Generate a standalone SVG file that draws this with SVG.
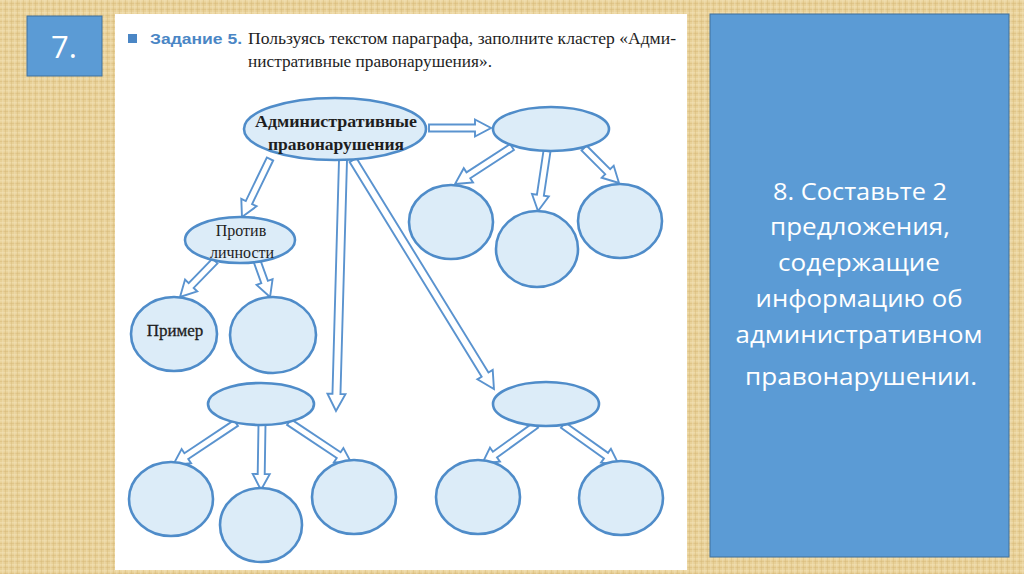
<svg xmlns="http://www.w3.org/2000/svg" width="1024" height="574" viewBox="0 0 1024 574">
<defs>
<pattern id="burlap" width="6" height="6" patternUnits="userSpaceOnUse">
<rect width="6" height="6" fill="#e8d097"/>
<rect x="0" y="0" width="6" height="1.5" fill="#f1dfb0" opacity="0.7"/>
<rect x="0" y="3" width="6" height="1" fill="#d7ba7c" opacity="0.5"/>
<rect x="2" y="0" width="1.5" height="6" fill="#f3e3b8" opacity="0.45"/>
<rect x="5" y="0" width="1" height="6" fill="#d4b676" opacity="0.4"/>
</pattern>
<style>
.nd{fill:#dcecf8;stroke:#4f8cc9;stroke-width:2.6}
.arr{fill:#ffffff;stroke:#5a93cf;stroke-width:1.9;stroke-linejoin:miter}
.ser{font-family:"Liberation Serif","DejaVu Serif",serif;fill:#1e1e1e}
.pp{font-family:"Open Sans","Noto Sans","Liberation Sans",sans-serif;fill:#ffffff}
</style>
</defs>
<rect width="1024" height="574" fill="url(#burlap)"/>
<rect x="115" y="14" width="572" height="556" fill="#ffffff"/>

<g id="num7">
<rect x="27" y="16" width="75" height="60" fill="#5b9bd5" stroke="#41719c" stroke-width="1"/>
<text x="64" y="58" class="pp" font-size="31" text-anchor="middle">7.</text>
</g>

<g id="header">
<rect x="128" y="34" width="9" height="9" fill="#4a86c5"/>
<text x="150" y="44" font-family="'Liberation Sans',Arial,sans-serif" font-weight="bold" font-size="15" fill="#4a86c5" textLength="92" lengthAdjust="spacingAndGlyphs">Задание 5.</text>
<text x="248" y="44" class="ser" font-size="16.5" textLength="428" lengthAdjust="spacingAndGlyphs">Пользуясь текстом параграфа, заполните кластер «Адми-</text>
<text x="248" y="67" class="ser" font-size="16.5" textLength="244" lengthAdjust="spacingAndGlyphs">нистративные правонарушения».</text>
</g>

<g id="connectors">
<polygon class="arr" transform="translate(429,128) rotate(0)" points="0,-3.5 46,-3.5 46,-8.5 62,0 46,8.5 46,3.5 0,3.5"/>
<polygon class="arr" transform="translate(512,147) rotate(147)" points="0,-3.5 52,-3.5 52,-8.5 68,0 52,8.5 52,3.5 0,3.5"/>
<polygon class="arr" transform="translate(547,151) rotate(98.5)" points="0,-3.5 44.7,-3.5 44.7,-8.5 60.7,0 44.7,8.5 44.7,3.5 0,3.5"/>
<polygon class="arr" transform="translate(584,148) rotate(45)" points="0,-3.5 33.5,-3.5 33.5,-8.5 49.5,0 33.5,8.5 33.5,3.5 0,3.5"/>
<polygon class="arr" transform="translate(270,159) rotate(115.8)" points="0,-3.5 48.4,-3.5 48.4,-8.5 64.4,0 48.4,8.5 48.4,3.5 0,3.5"/>
<polygon class="arr" transform="translate(343,160) rotate(91.6)" points="0,-4 234,-4 234,-9 251,0 234,9 234,4 0,4"/>
<polygon class="arr" transform="translate(353,160) rotate(58.4)" points="0,-4 252,-4 252,-9 269,0 252,9 252,4 0,4"/>
<polygon class="arr" transform="translate(215,261) rotate(134.2)" points="0,-3.5 34.2,-3.5 34.2,-8.5 50.2,0 34.2,8.5 34.2,3.5 0,3.5"/>
<polygon class="arr" transform="translate(257,261) rotate(70.1)" points="0,-3.5 22.3,-3.5 22.3,-8.5 38.3,0 22.3,8.5 22.3,3.5 0,3.5"/>
<polygon class="arr" transform="translate(236,423) rotate(146.3)" points="0,-3.5 59.7,-3.5 59.7,-8.5 75.7,0 59.7,8.5 59.7,3.5 0,3.5"/>
<polygon class="arr" transform="translate(262,424) rotate(90.9)" points="0,-3.5 50,-3.5 50,-8.5 66,0 50,8.5 50,3.5 0,3.5"/>
<polygon class="arr" transform="translate(289,422) rotate(33.7)" points="0,-3.5 59.7,-3.5 59.7,-8.5 75.7,0 59.7,8.5 59.7,3.5 0,3.5"/>
<polygon class="arr" transform="translate(536,425) rotate(144.2)" points="0,-3.5 50.6,-3.5 50.6,-8.5 66.6,0 50.6,8.5 50.6,3.5 0,3.5"/>
<polygon class="arr" transform="translate(563,425) rotate(35.5)" points="0,-3.5 52.8,-3.5 52.8,-8.5 68.8,0 52.8,8.5 52.8,3.5 0,3.5"/>
</g>

<g id="n-main">
<ellipse class="nd" cx="335" cy="129" rx="91" ry="31"/>
<text x="336" y="127" class="ser" font-size="16.5" font-weight="bold" text-anchor="middle" textLength="162" lengthAdjust="spacingAndGlyphs">Административные</text>
<text x="336" y="150" class="ser" font-size="16.5" font-weight="bold" text-anchor="middle" textLength="136" lengthAdjust="spacingAndGlyphs">правонарушения</text>
</g>
<g id="n-tr"><ellipse class="nd" cx="551" cy="129" rx="58" ry="22"/></g>
<g id="n-tr1"><ellipse class="nd" cx="451" cy="222" rx="42" ry="37"/></g>
<g id="n-tr2"><ellipse class="nd" cx="537" cy="249" rx="41" ry="38"/></g>
<g id="n-tr3"><ellipse class="nd" cx="620" cy="221" rx="42" ry="37"/></g>
<g id="n-person">
<ellipse class="nd" cx="240" cy="240" rx="55" ry="23"/>
<text x="241" y="236" class="ser" font-size="16" text-anchor="middle">Против</text>
<text x="242" y="258" class="ser" font-size="16" text-anchor="middle">личности</text>
</g>
<g id="n-example">
<ellipse class="nd" cx="174" cy="334" rx="43" ry="37"/>
<text x="175" y="336" class="ser" font-size="17" text-anchor="middle" stroke="#1e1e1e" stroke-width="0.3">Пример</text>
</g>
<g id="n-p2"><ellipse class="nd" cx="273" cy="335" rx="43" ry="38"/></g>
<g id="n-bl"><ellipse class="nd" cx="261" cy="404" rx="53" ry="21"/></g>
<g id="n-br"><ellipse class="nd" cx="546" cy="404" rx="53" ry="22"/></g>
<g id="n-bl1"><ellipse class="nd" cx="171" cy="499" rx="42" ry="37"/></g>
<g id="n-bl2"><ellipse class="nd" cx="261" cy="525" rx="41" ry="37"/></g>
<g id="n-bl3"><ellipse class="nd" cx="354" cy="497" rx="42" ry="37"/></g>
<g id="n-br1"><ellipse class="nd" cx="478" cy="497" rx="42" ry="37"/></g>
<g id="n-br2"><ellipse class="nd" cx="621" cy="498" rx="42" ry="37"/></g>

<g id="task8">
<rect x="710" y="14" width="299" height="543" fill="#5b9bd5" stroke="#41719c" stroke-width="1"/>
<g class="pp" font-size="23" text-anchor="middle">
<text x="860" y="200" textLength="174" lengthAdjust="spacingAndGlyphs">8. Составьте 2</text>
<text x="860" y="235" textLength="180" lengthAdjust="spacingAndGlyphs">предложения,</text>
<text x="859" y="271" textLength="162" lengthAdjust="spacingAndGlyphs">содержащие</text>
<text x="859" y="307" textLength="207" lengthAdjust="spacingAndGlyphs">информацию об</text>
<text x="859" y="343" textLength="247" lengthAdjust="spacingAndGlyphs">административном</text>
<text x="861" y="385" textLength="232" lengthAdjust="spacingAndGlyphs">правонарушении.</text>
</g>
</g>
</svg>
